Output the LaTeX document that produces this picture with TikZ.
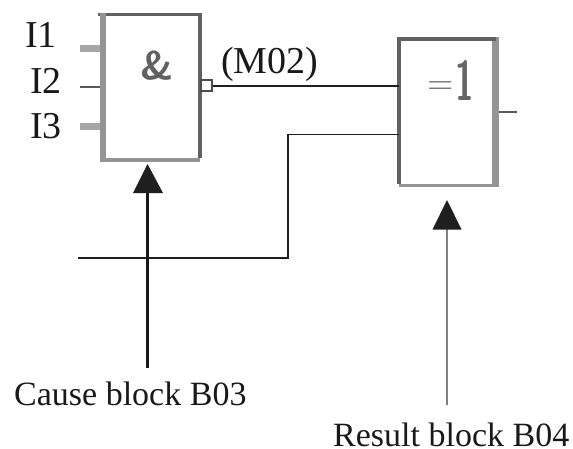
\documentclass[tikz,border=0pt]{standalone}
\usepackage{fontspec}
\setmainfont{Liberation Serif}
\begin{document}
\begin{tikzpicture}[x=1pt,y=-1pt,
  blockbox/.style={draw=none,fill=white,minimum width=0pt,inner sep=0pt},
  lbl/.style={font=\fontsize{34}{36}\selectfont,inner sep=0pt,text=black!90,anchor=base west},
  biglbl/.style={lbl,font=\fontsize{38}{40}\selectfont},
  wire/.style={draw=black!88,line width=1.5pt},
  darkedge/.style={draw=black!62,line width=3.4pt},
  greyedge/.style={draw=black!42,line width=3.6pt},
  headtip/.style={fill=black!88,draw=none}]
\useasboundingbox (0,0) rectangle (573,448);
% blocks
\node[blockbox,minimum width=100pt,minimum height=148pt] (and) at (151,88) {};
\node[blockbox,minimum width=100pt,minimum height=148pt] (xor) at (448,112) {};
\coordinate (andNW) at (101,14.5); \coordinate (andNE) at (200,14.5);
\coordinate (andSW) at (101,160); \coordinate (andSE) at (200,160);
\coordinate (xorNW) at (399,39); \coordinate (xorNE) at (496,39);
\coordinate (xorSW) at (399,185.5); \coordinate (xorSE) at (496,185.5);
% input stubs
\coordinate (i1) at (80,48.5); \coordinate (i2) at (80,87); \coordinate (i3) at (80,126);
\draw[draw=black!35,line width=7pt] (i1) -- (i1 -| and.west);
\draw[draw=black!35,line width=7pt] (i3) -- (i3 -| and.west);
\draw[draw=black!65,line width=2pt] (i2) -- (i2 -| and.west);
% edges of the AND block
\draw[darkedge] (98,14.5) -- (andNE) -- ([yshift=2pt]andSE);
\draw[draw=black!42,line width=3.6pt] (andSW) -- (andSE);
\draw[draw=black!42,line width=6pt] (103,13) -- (103,162);
% output square
\node[draw=black!70,line width=2.4pt,fill=white,minimum size=11pt,inner sep=0pt] (sq) at (206.5,85.5) {};
% edges of XOR block
\draw[greyedge,line width=7pt] (495.5,37) -- (495.5,187);
\draw[greyedge] (xorSW) -- (xorSE);
\draw[darkedge] (xorNE) -- (xorNW) -- ([yshift=2pt]xorSW);
\draw[darkedge] (xorNW) -- (xorNE);
% wires
\coordinate (w1end) at (399,86);
\coordinate (w2start) at (78,258); \coordinate (w2bend) at (288,258);
\coordinate (w2top) at (288,134.5); \coordinate (w2end) at (399,134.5);
\draw[wire] (sq.east |- w1end) -- (w1end);
\draw[wire] (w2start) -- (w2bend) -- (w2top) -- (w2end);
\coordinate (xo) at (517,112);
\draw[draw=black!65,line width=2.4pt] (499,112) -- (xo);
% symbols
\node[font=\fontsize{40}{40}\selectfont\sffamily\bfseries,text=black!62,inner sep=0pt] (amp) at (157.5,65.5) {\&};
\node[font=\sffamily,text=black!60,inner sep=0pt,anchor=base west] (eq1) at (427,100) {\raisebox{6pt}{\fontsize{36}{36}\selectfont =}\hspace{2pt}\scalebox{0.6}[1]{\fontsize{56}{56}\selectfont\bfseries 1}};
% labels
\node[biglbl] (l1) at (25,47) {I1};
\node[biglbl] (l2) at (30,93) {I2};
\node[biglbl] (l3) at (30,138) {I3};
\node[biglbl] (m02) at (221,73) {(M02)};
\node[lbl] (cause) at (14,405) {Cause block B03};
\node[lbl] (result) at (333,446) {Result block B04};
% arrows
\coordinate (a1s) at (147.5,368); \coordinate (a1b) at (147.5,193);
\coordinate (a2s) at (447,405); \coordinate (a2b) at (447,229);
\draw[draw=black!90,line width=2.6pt] (a1s) -- (a1b);
\draw[draw=black!50,line width=1.3pt] (a2s) -- (a2b);
\fill[headtip] (147.5,164) -- (163,193) -- (133,193) -- cycle;
\fill[headtip] (447,200) -- (461.5,229.5) -- (432.5,229.5) -- cycle;
\end{tikzpicture}
\end{document}
